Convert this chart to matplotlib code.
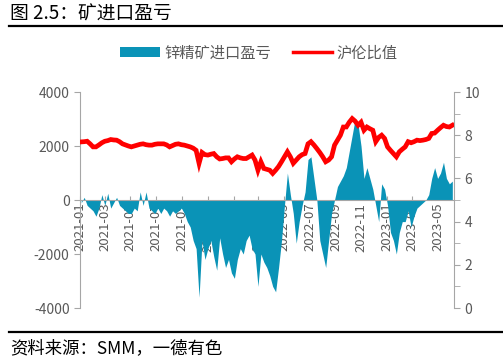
import matplotlib
matplotlib.use("Agg")
import matplotlib.pyplot as plt
import matplotlib.dates as mdates
from matplotlib.patches import Patch
from matplotlib.lines import Line2D
from matplotlib.ticker import MultipleLocator
import numpy as np
import pandas as pd

plt.rcParams['font.family'] = ['Noto Sans CJK SC', 'DejaVu Sans']
plt.rcParams['axes.unicode_minus'] = False

title = "图 2.5：矿进口盈亏"
source = "资料来源：SMM，一德有色"
series_profit_name = "锌精矿进口盈亏"
series_ratio_name = "沪伦比值"

start_date = "2021-01-04"
n_weeks = 127
dates = pd.date_range(start_date, periods=n_weeks, freq="7D")

# weekly zinc concentrate import profit/loss (yuan/t)
profit = [
    -100, 100, -200, -300, -400, -600, -300, 200, -200, 250,
    -300, -100, 100, -200, -300, -400, -500, -500, -300, -400,
    300, -200, 300, -300, -400, -500, -300, -500, -300, -400,
    -600, -400, -500, -400, -300, -500, -800, -1000, -1500, -1800,
    -3600, -1500, -2200, -1800, -1500, -2100, -2600, -1400, -2000, -2500,
    -2200, -2700, -2900, -2200, -1800, -2000, -1500, -1300, -1800, -2000,
    -3200, -2000, -2300, -2500, -2800, -3200, -3400, -2500, -1500, -200,
    1000, 200, -500, -1600, -800, -200, 300, 1500, 1600, 800,
    0, -1500, -2000, -2500, -1500, -500, 0, 500, 700, 900,
    1200, 1800, 2400, 3000, 2800, 2000, 800, 1200, 800, 400,
    -200, -800, 600, 400, -200, -1200, -1500, -2000, -1200, -800,
    -800, -400, -1000, -600, -300, -200, -100, 0, 200, 800,
    1200, 800, 1000, 1400, 800, 600, 700,
]

# weekly SHFE/LME ratio
ratio = [
    7.69, 7.70, 7.72, 7.60, 7.46, 7.46, 7.55, 7.65, 7.72, 7.75,
    7.80, 7.78, 7.77, 7.70, 7.60, 7.55, 7.50, 7.46, 7.50, 7.54,
    7.58, 7.60, 7.56, 7.54, 7.54, 7.58, 7.60, 7.60, 7.60, 7.55,
    7.46, 7.52, 7.58, 7.60, 7.56, 7.54, 7.50, 7.46, 7.40, 7.30,
    6.70, 7.20, 7.10, 7.08, 7.12, 7.15, 7.00, 6.90, 6.92, 6.95,
    6.95, 6.77, 6.90, 7.00, 6.95, 6.92, 6.92, 7.00, 7.08, 6.85,
    6.38, 6.77, 6.46, 6.42, 6.38, 6.23, 6.38, 6.55, 6.77, 7.00,
    7.23, 7.00, 6.70, 6.85, 7.00, 7.10, 7.15, 7.60, 7.70, 7.55,
    7.38, 7.20, 7.00, 6.77, 6.85, 7.00, 7.54, 7.77, 8.00, 8.38,
    8.38, 8.60, 8.77, 8.65, 8.46, 8.60, 8.23, 8.38, 8.30, 8.23,
    7.70, 7.90, 8.00, 7.85, 7.46, 7.30, 7.15, 7.00, 7.23, 7.35,
    7.46, 7.70, 7.65, 7.70, 7.77, 7.75, 7.77, 7.80, 7.85, 8.08,
    8.10, 8.23, 8.35, 8.46, 8.40, 8.38, 8.46,
]

left_ticks = [-4000, -2000, 0, 2000, 4000]
right_ticks = [0, 2, 4, 6, 8, 10]

blue = "#0A93B7"
red = "#FF0000"
gray = "#A6A6A6"
text_gray = "#595959"

fig = plt.figure(figsize=(5.03, 3.62), dpi=100)
ax = fig.add_axes([80/503, 1-308/362, (454-80)/503, (308-92)/362])

ax.fill_between(dates, 0, profit, color=blue, linewidth=0, zorder=2)
ax.set_ylim(-4000, 4000)
ax.set_yticks(left_ticks)
ax.set_xlim(pd.Timestamp("2021-01-01"), dates[-1] + pd.Timedelta(days=4))

ax2 = ax.twinx()
ax2.plot(dates, ratio, color=red, linewidth=3.4, zorder=3, solid_joinstyle='miter')
ax2.set_ylim(0, 10)
ax2.set_yticks(right_ticks)
ax2.yaxis.set_minor_locator(MultipleLocator(1))

for a in (ax, ax2):
    a.spines['top'].set_visible(False)
    a.patch.set_visible(False)
ax2.spines['bottom'].set_visible(False)
ax2.spines['left'].set_visible(False)
ax.spines['right'].set_visible(False)
ax.spines['left'].set_color(gray)
ax2.spines['right'].set_color(gray)
ax.spines['bottom'].set_position(('data', 0))
ax.spines['bottom'].set_color(gray)
ax.spines['bottom'].set_zorder(4)

ax.xaxis.set_major_locator(mdates.MonthLocator(bymonth=[1, 3, 5, 7, 9, 11]))
ax.xaxis.set_major_formatter(mdates.DateFormatter("%Y-%m"))
ax.tick_params(axis='x', rotation=90, labelsize=9.5, labelcolor=text_gray,
               color=gray, length=3, direction='in', pad=2)
ax.tick_params(axis='y', labelsize=10, labelcolor=text_gray, color=gray, length=4)
ax2.tick_params(axis='y', which='both', labelsize=10, labelcolor=text_gray,
                color=gray, length=4)
ax2.tick_params(axis='y', which='minor', length=4)
for lbl in ax.get_xticklabels():
    lbl.set_verticalalignment('top')

ax2.set_zorder(ax.get_zorder() + 1)

handles = [Patch(facecolor=blue, edgecolor='none'),
           Line2D([0], [0], color=red, linewidth=2.5)]
leg = fig.legend(handles, [series_profit_name, series_ratio_name], ncol=2,
                 loc='center', bbox_to_anchor=(0.515, 1-53/362), frameon=False,
                 fontsize=11, handlelength=2.6, handleheight=0.55,
                 handletextpad=0.3, columnspacing=1.4)
for t in leg.get_texts():
    t.set_color(text_gray)

fig.text(10/503, 1-14/362, title, fontsize=13.5, color='black', va='center', ha='left')
fig.add_artist(Line2D([9/503, 1.0], [1-26/362, 1-26/362], color='black', linewidth=1.6))
fig.add_artist(Line2D([9/503, 1.0], [1-332/362, 1-332/362], color='black', linewidth=1.6))
fig.text(10/503, 1-348/362, source, fontsize=12.5, color='black', va='center', ha='left')

fig.savefig("out.png", dpi=100)
